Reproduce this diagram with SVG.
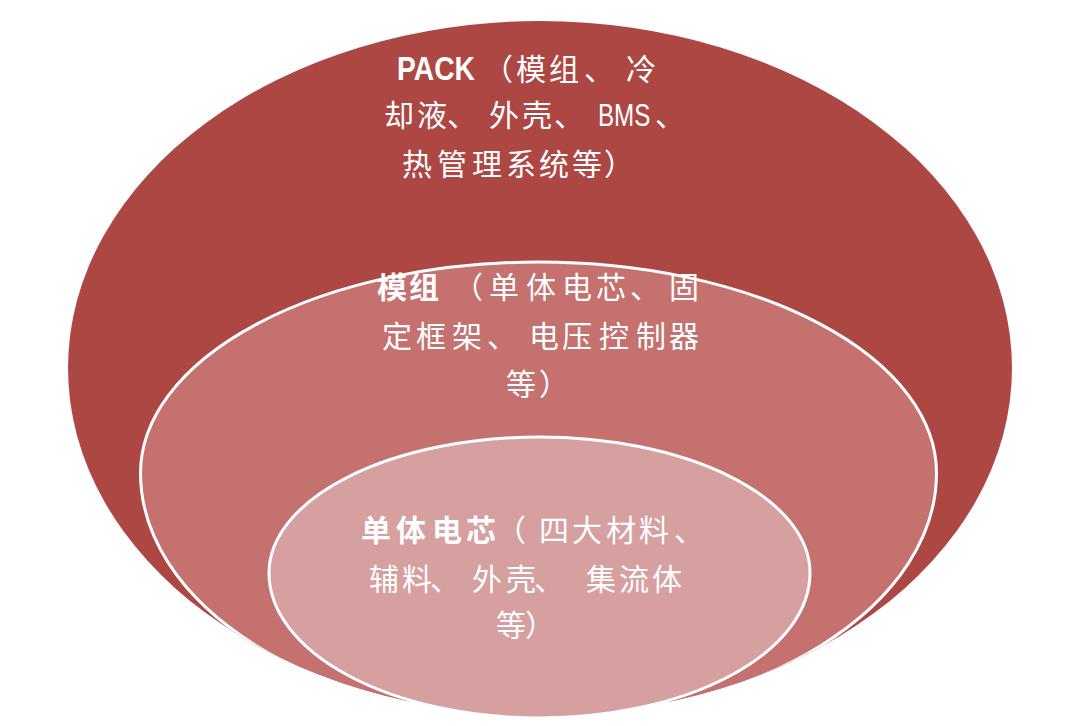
<svg xmlns="http://www.w3.org/2000/svg" width="1080" height="726" viewBox="0 0 1080 726">
<defs>
<style>
.cjk{font-family:"Noto Sans CJK SC","Noto Sans",sans-serif;font-size:30px;fill:#fff;}
.b{font-weight:700;}
.lat{font-family:"Liberation Sans",Arial,sans-serif;fill:#fff;}
.ring{stroke:#fff;stroke-width:3;}
</style>
<clipPath id="outerClip"><ellipse cx="540" cy="368" rx="472" ry="347"/></clipPath>
</defs>
<rect width="1080" height="726" fill="#fff"/>
<g id="node-pack">
<ellipse cx="540" cy="368" rx="472" ry="347" fill="#AD4744"/>
</g>
<g id="node-module">
<path class="ring" clip-path="url(#outerClip)" fill="#C4716F" d="M140.5 473 A398 211 0 0 1 936.5 473 A398 245 0 0 1 140.5 473 Z"/>
</g>
<g id="node-cell">
<path class="ring" fill="#D7A0A0" d="M269 573 A270.5 136 0 0 1 810 573 A270.5 145 0 0 1 269 573 Z"/>
</g>
<g id="labels">
<text class="cjk" y="80"><tspan class="lat" x="397" font-size="34" font-weight="700" textLength="78" lengthAdjust="spacingAndGlyphs">PACK</tspan><tspan x="483 516 549 584 626">（模组、冷</tspan></text>
<text class="cjk" x="384 417 447 489 522 554" y="126">却液、外壳、</text>
<g transform="translate(598 126) scale(0.78 1)"><text class="lat" x="0" y="0" font-size="31">BMS</text></g>
<text class="cjk" x="655" y="126">、</text>
<text class="cjk" x="402 437 472 506 539 572 604" y="175">热管理系统等）</text>

<text class="cjk" y="298"><tspan class="b" x="377 409">模组</tspan><tspan x="453 489 526 562 596 630 669">（单体电芯、固</tspan></text>
<text class="cjk" x="382 416 452 487 529 562 599 636 669" y="347">定框架、电压控制器</text>
<text class="cjk" x="506 539" y="395">等）</text>

<text class="cjk" y="541"><tspan class="b" x="361 396 432 466">单体电芯</tspan><tspan x="496 539 572 606 639 674">（四大材料、</tspan></text>
<text class="cjk" x="369 402 430 472 506 534 586 619 652" y="590">辅料、外壳、集流体</text>
<text class="cjk" x="496 525" y="636">等）</text>
</g>
</svg>
